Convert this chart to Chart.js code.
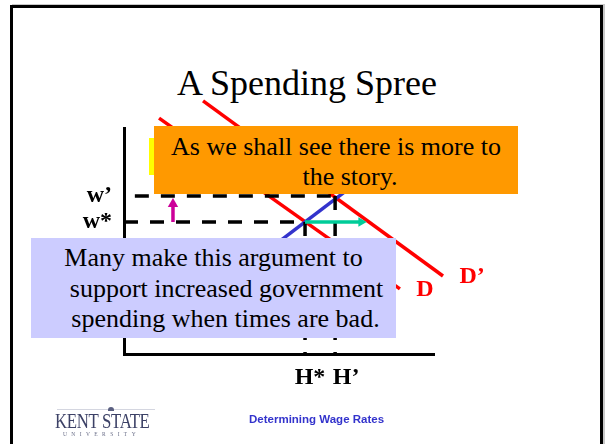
<!DOCTYPE html>
<html>
<head>
<meta charset="utf-8">
<script src="https://cdn.jsdelivr.net/npm/chart.js@4.4.1/dist/chart.umd.min.js"></script>
<style>
  html, body { margin:0; padding:0; background:#fff; }
  #wrap { position:relative; width:605px; height:444px; overflow:hidden; background:#fff; }
  #frame { position:absolute; left:10px; top:5px; width:587px; height:520px; border:3px solid #000; box-shadow:2px -1px 0 #c8c8c8; }
  #title { position:absolute; left:0; top:65px; width:614px; text-align:center; font-family:"Liberation Serif", serif; font-size:36px; line-height:36px; color:#000; }
  canvas { position:absolute; left:0; top:0; }
  #yellow { position:absolute; left:149px; top:138px; width:12px; height:37px; background:#ffff00; }
  #orange { position:absolute; left:154px; top:126px; width:364px; height:68px; background:#ff9900; box-sizing:border-box; padding-top:6px; text-align:center; font-family:"Liberation Serif", serif; font-size:26px; line-height:30px; color:#000; }
  #lav { position:absolute; left:31px; top:238px; width:365px; height:100px; background:#ccccff; box-sizing:border-box; padding-top:5px; text-align:center; font-family:"Liberation Serif", serif; font-size:26px; line-height:30.5px; color:#000; }
  .ln { display:block; white-space:nowrap; }
  #footer { position:absolute; left:249px; top:412px; font-family:"Liberation Sans", sans-serif; font-weight:bold; font-size:11.5px; line-height:14px; color:#3333cc; white-space:nowrap; }
  #logo { position:absolute; left:55px; top:404px; width:102px; height:36px; }
  #logo .rule { position:absolute; left:2px; top:5px; width:98px; height:1px; background:#d4d6e0; }
  #logo .dome { position:absolute; left:53px; top:3px; width:6px; height:4px; background:#5a5f80; border-radius:3px 3px 0 0; }
  #logo .kent { position:absolute; left:0; top:6px; font-family:"Liberation Serif", serif; font-size:21px; line-height:22px; color:#3c4166; white-space:nowrap; transform-origin:0 0; transform:scaleX(0.8); letter-spacing:-0.4px; }
  #logo .univ { position:absolute; left:8px; top:27px; font-family:"Liberation Serif", serif; font-size:5.5px; line-height:6px; letter-spacing:4.4px; color:#6a6e88; white-space:nowrap; }
</style>
</head>
<body>
<div id="wrap">
  <div id="frame"></div>
  <div id="title">A Spending Spree</div>
  <canvas id="c" width="605" height="444"></canvas>
  <div id="yellow"></div>
  <div id="orange"><span class="ln">As we shall see there is more to</span><span class="ln" style="padding-left:28px">the story.</span></div>
  <div id="lav"><span class="ln">Many make this argument to</span><span class="ln" style="padding-left:26px">support increased government</span><span class="ln" style="padding-left:24px">spending when times are bad.</span></div>
  <div id="footer">Determining Wage Rates</div>
  <div id="logo"><div class="rule"></div><div class="dome"></div><div class="kent">KENT STATE</div><div class="univ">UNIVERSITY</div></div>
</div>
<script>
// ---- data ----
const hValues = [5.84, 6.81];          // H*, H'
const hLabels = ['H*', '\u2002H\u2019'];
const wValues = [5.84, 6.99];          // w*, w'
const wLabels = ['w*', 'w\u2019'];
const demandD  = [{x:1.13, y:10.44}, {x:8.9,  y:2.88}];
const demandD2 = [{x:2.55, y:11.2},  {x:10.29, y:3.45}];
const supplyS  = [{x:4.6,  y:4.55},  {x:7.3,  y:7.36}];
const curveLabels   = ['D', 'D\u2019'];
const curveLabelPos = [{x:9.71, y:2.83}, {x:11.23, y:3.41}];
const wageArrow  = [{x:1.58, y:5.84}, {x:1.58, y:6.64}];
const hoursArrow = [{x:5.84, y:5.84}, {x:7.65, y:5.84}];
const wPrimeStartX = 0.35;

const guide = (pts) => ({
  data: pts, showLine:true, borderColor:'#000', borderWidth:3.5, borderDash:[14,12],
  pointRadius:0, clip:false, order:3
});

const curveLabelPlugin = {
  id:'curveLabels',
  afterDatasetsDraw(chart){
    const {ctx, scales:{x, y}} = chart;
    ctx.save();
    ctx.font = 'bold 24px "Liberation Serif"';
    ctx.fillStyle = '#ff0000';
    ctx.textAlign = 'center';
    ctx.textBaseline = 'middle';
    curveLabels.forEach((t, i) => ctx.fillText(t, x.getPixelForValue(curveLabelPos[i].x), y.getPixelForValue(curveLabelPos[i].y)));
    ctx.restore();
  }
};

const tickFont = {family:'Liberation Serif', weight:'bold', size:24};

new Chart(document.getElementById('c'), {
  type:'scatter',
  data:{ datasets:[
    {data:demandD,  showLine:true, borderColor:'#ff0000', borderWidth:3.5, pointRadius:0, clip:false, order:5},
    {data:demandD2, showLine:true, borderColor:'#ff0000', borderWidth:3.5, pointRadius:0, clip:false, order:5},
    {data:supplyS,  showLine:true, borderColor:'#3333cc', borderWidth:3.5, pointRadius:0, clip:false, order:4},
    guide([{x:wPrimeStartX, y:wValues[1]}, {x:hValues[1], y:wValues[1]}]),
    guide([{x:0, y:wValues[0]}, {x:hValues[0], y:wValues[0]}]),
    guide([{x:hValues[0], y:wValues[0]}, {x:hValues[0], y:0}]),
    guide([{x:hValues[1], y:wValues[1]}, {x:hValues[1], y:0}]),
    {data:wageArrow, showLine:true, borderColor:'#cc0099', borderWidth:3.5, clip:false, order:1,
     pointRadius:[0,6], pointStyle:'triangle', pointRotation:[0,0], pointBackgroundColor:'#cc0099', pointBorderWidth:0},
    {data:hoursArrow, showLine:true, borderColor:'#00cc99', borderWidth:3.5, clip:false, order:1,
     pointRadius:[0,5.5], pointStyle:'triangle', pointRotation:[0,90], pointBackgroundColor:'#00cc99', pointBorderWidth:0}
  ]},
  options:{
    responsive:false, animation:false, events:[],
    layout:{padding:{left:0, top:128, right:171, bottom:0}},
    plugins:{legend:{display:false}, tooltip:{enabled:false}},
    scales:{
      x:{type:'linear', min:0, max:10,
         grid:{display:false, drawTicks:false},
         border:{display:true, color:'#000', width:3},
         afterBuildTicks: s => { s.ticks = hValues.map(v => ({value:v})); },
         ticks:{callback:(v, i) => hLabels[i], autoSkip:false, maxRotation:0, minRotation:0, padding:9, labelOffset:5, color:'#000', font:tickFont},
         afterFit: s => { s.height = 90; s.paddingLeft = 0; s.paddingRight = 0; }
      },
      y:{type:'linear', min:0, max:10,
         grid:{display:false, drawTicks:false},
         border:{display:true, color:'#000', width:3},
         afterBuildTicks: s => { s.ticks = wValues.map(v => ({value:v})); },
         ticks:{callback:(v, i) => wLabels[i], autoSkip:false, padding:12, color:'#000', font:tickFont},
         afterFit: s => { s.width = 124; s.paddingTop = 0; s.paddingBottom = 0; }
      }
    }
  },
  plugins:[curveLabelPlugin]
});
</script>
</body>
</html>
